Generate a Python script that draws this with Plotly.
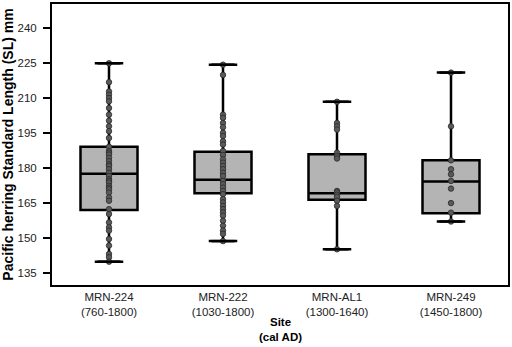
import plotly.graph_objects as go

sites = ["MRN-224", "MRN-222", "MRN-AL1", "MRN-249"]
site_labels = ["MRN-224<br>(760-1800)", "MRN-222<br>(1030-1800)",
               "MRN-AL1<br>(1300-1640)", "MRN-249<br>(1450-1800)"]

q1 = [161.9, 169.1, 166.3, 160.5]
median = [177.5, 174.9, 169.1, 174.1]
q3 = [189.0, 186.9, 185.8, 183.2]
lower = [139.8, 148.6, 145.1, 157.0]
upper = [224.8, 224.2, 208.3, 220.8]

pts_224 = [224.8, 216.7, 212.7, 211.3, 209.9, 208.5, 205.6, 202.8, 200.2, 197.8,
           195.7, 192.8, 189.0, 187.2, 186.5, 185.7, 184.3, 182.9, 181.5, 180.8,
           179.4, 177.9, 176.5, 175.1, 174.4, 173.7, 172.3, 171.5, 170.8, 169.4,
           167.3, 165.9, 162.3, 160.2, 156.6, 154.5, 153.1, 149.5, 146.7, 143.1,
           141.7, 139.8]
pts_222 = [224.2, 219.8, 202.8, 201.4, 199.2, 197.4, 195.0, 193.6, 191.4, 190.0,
           187.2, 185.5, 183.6, 182.2, 180.8, 179.4, 177.9, 176.5, 174.4, 173.0,
           171.5, 170.1, 168.7, 166.6, 165.2, 163.7, 162.3, 160.9, 159.5, 157.3,
           155.2, 153.1, 151.7, 148.6]
pts_al1 = [208.3, 199.2, 197.8, 196.4, 186.5, 185.0, 184.0, 170.1, 169.5, 168.5,
           167.6, 165.9, 163.7, 145.1]
pts_249 = [220.8, 197.8, 183.2, 179.4, 177.2, 174.4, 171.1, 164.9, 160.8, 157.0]

y_ticks = [135, 150, 165, 180, 195, 210, 225, 240]
x_title = "<b>Site<br>(cal AD)</b>"

fig = go.Figure()

fig.add_trace(go.Box(
    x=sites, q1=q1, median=median, q3=q3, lowerfence=lower, upperfence=upper,
    width=0.5, fillcolor="#b4b4b4", line=dict(color="black", width=2.5),
    boxpoints=False, showlegend=False, hoverinfo="skip"))

all_pts = [pts_224, pts_222, pts_al1, pts_249]
px, py = [], []
for s, vals in zip(sites, all_pts):
    px += [s] * len(vals)
    py += vals
fig.add_trace(go.Scatter(
    x=px, y=py, mode="markers", showlegend=False,
    marker=dict(size=5.5, color="#5a5a5a", line=dict(color="#2a2a2a", width=0.8))))

# whisker caps
cx = sites + sites
cy = lower + upper
fig.add_trace(go.Scatter(
    x=cx, y=cy, mode="markers", showlegend=False, hoverinfo="skip",
    marker=dict(symbol="line-ew", size=16.5, color="black",
                line=dict(color="black", width=2.5))))

font_family = "Liberation Sans, Arial, sans-serif"
fig.update_layout(
    width=512, height=347,
    margin=dict(l=52, r=3, t=2, b=62),
    paper_bgcolor="white", plot_bgcolor="white",
    font=dict(family=font_family, size=11.5, color="#222"),
    xaxis=dict(
        type="category", categoryorder="array", categoryarray=sites,
        range=[-0.5, 3.5], tickvals=sites, ticktext=site_labels,
        showgrid=False, zeroline=False, ticks="",
        showline=True, mirror=True, linecolor="black", linewidth=2,
        tickfont=dict(size=11.5, color="#222")),
    yaxis=dict(
        range=[129.8, 250.2], tickvals=y_ticks,
        showgrid=False, zeroline=False,
        ticks="outside", ticklen=7, tickwidth=2, tickcolor="black",
        ticklabelstandoff=4,
        showline=True, mirror=True, linecolor="black", linewidth=2,
        tickfont=dict(size=11.5, color="#222"),
        title=dict(text="<b>Pacific herring Standard Length (SL) mm</b>", standoff=3,
                   font=dict(size=14, color="black"))),
    annotations=[
        dict(text=x_title, xref="paper", yref="paper",
             x=0.5, y=0, xanchor="center", yanchor="middle", yshift=-44,
             borderpad=0, showarrow=False, font=dict(size=11.5, color="black")),
    ],
)

fig.write_html("out.html", config={"displayModeBar": False},
               post_script="document.body.style.margin='0';")
